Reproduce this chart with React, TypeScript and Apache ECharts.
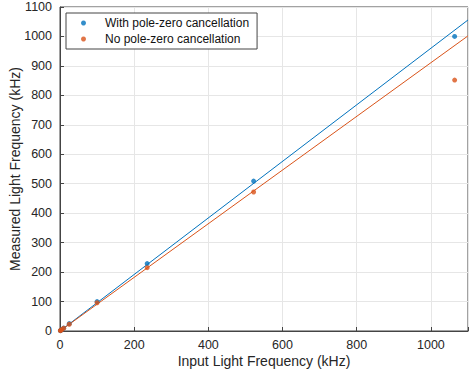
import React, { useEffect, useRef } from "react";
import * as echarts from "echarts";

const withPZ: [number, number][] = [
  [1, 1], [2, 2], [5, 5], [10, 10], [25, 25],
  [100, 100], [235, 229], [522, 509], [1064, 1000],
];
const noPZ: [number, number][] = [
  [1, 1], [2, 2], [5, 5], [10, 9.5], [25, 23],
  [100, 96], [235, 215], [522, 472], [1064, 852],
];
const fitWith: [number, number][] = [[0, 0], [1100, 1056]];
const fitNo: [number, number][] = [[0, 0], [1100, 1002]];

const BLUE = "#0072BD";
const ORANGE = "#D95319";
const FONT = "Liberation Sans";

export default function App() {
  const ref = useRef<HTMLDivElement>(null);
  useEffect(() => {
    const chart = echarts.init(ref.current!, null, { renderer: "svg" });
    const axisCommon = {
      min: 0,
      max: 1100,
      interval: 100,
      axisLine: { show: true, onZero: false, lineStyle: { color: "#444", width: 1 } },
      axisTick: { show: true, inside: true, length: 4, lineStyle: { color: "#444" } },
      splitLine: { show: true, lineStyle: { color: "#e6e6e6", width: 1 } },
      nameLocation: "middle" as const,
      nameMoveOverlap: false,
      nameTextStyle: { fontFamily: FONT, fontSize: 14, color: "#262626" },
    };
    chart.setOption({
      animation: false,
      backgroundColor: "#fff",
      grid: {
        left: 60, right: 1, top: 7, bottom: 48,
        show: true, borderColor: "#444", borderWidth: 1,
        containLabel: false, outerBoundsMode: "none",
      },
      legend: {
        data: ["With pole-zero cancellation", "No pole-zero cancellation"],
        orient: "vertical",
        left: 66,
        top: 13,
        itemWidth: 5,
        itemHeight: 5,
        itemGap: 4,
        padding: [4, 8, 4, 15],
        borderColor: "#444",
        borderWidth: 1,
        backgroundColor: "#fff",
        textStyle: { fontFamily: FONT, fontSize: 12, color: "#111", padding: [0, 0, 0, 14] },
      },
      xAxis: {
        type: "value",
        ...axisCommon,
        interval: 200,
        max: 1100,
        name: "Input Light Frequency (kHz)",
        nameGap: 23,
        axisLabel: {
          fontFamily: FONT, fontSize: 12.5, color: "#262626", margin: 7,
          formatter: (v: number) => (v % 200 === 0 && v <= 1000 ? String(v) : ""),
        },
      },
      yAxis: {
        type: "value",
        ...axisCommon,
        name: "Measured Light Frequency (kHz)",
        nameGap: 38,
        axisLabel: {
          fontFamily: FONT, fontSize: 12.5, color: "#262626", margin: 8,
          formatter: (v: number) => String(v),
        },
      },
      series: [
        {
          name: "With pole-zero cancellation",
          type: "scatter",
          data: withPZ,
          symbol: "circle",
          symbolSize: 5,
          itemStyle: { color: BLUE },
          z: 3,
        },
        {
          name: "No pole-zero cancellation",
          type: "scatter",
          data: noPZ,
          symbol: "circle",
          symbolSize: 5,
          itemStyle: { color: ORANGE },
          z: 3,
        },
        {
          name: "fitWith",
          type: "line",
          data: fitWith,
          showSymbol: false,
          lineStyle: { color: BLUE, width: 1 },
          z: 2,
        },
        {
          name: "fitNo",
          type: "line",
          data: fitNo,
          showSymbol: false,
          lineStyle: { color: ORANGE, width: 1 },
          z: 2,
        },
      ],
    });
    return () => chart.dispose();
  }, []);
  return <div ref={ref} style={{ width: 469, height: 379, position: "absolute", left: 0, top: 0 }} />;
}
